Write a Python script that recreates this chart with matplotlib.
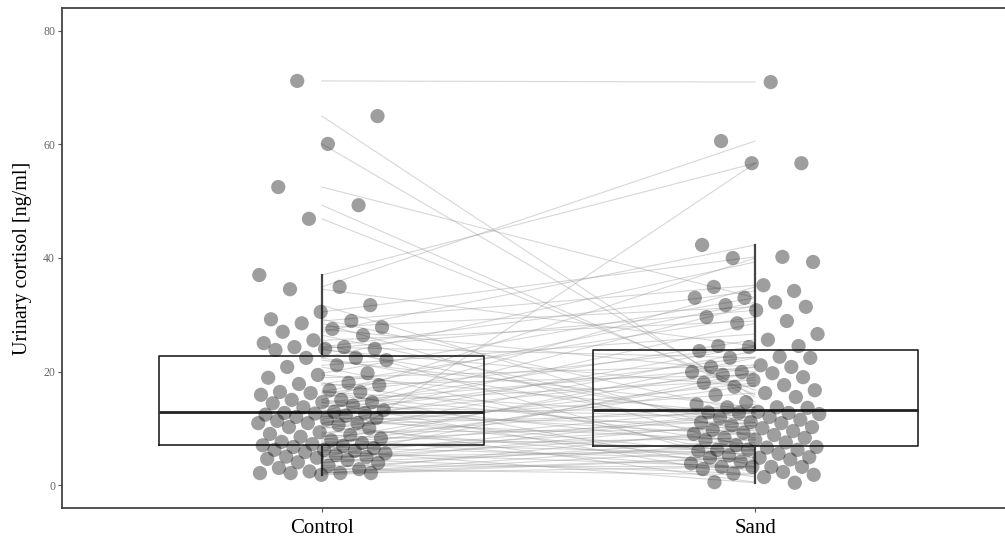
import numpy as np
import matplotlib
matplotlib.use("Agg")
from matplotlib import pyplot as plt

plt.rcParams['font.family'] = ['Liberation Serif', 'DejaVu Serif']

# group labels
groups = ["Control", "Sand"]

# paired urinary cortisol values (ng/ml), one entry per subject
control = [71.2, 65.0, 60.1, 52.5, 49.3, 46.9, 37.0, 34.9, 34.5, 31.7,
           30.5, 29.2, 28.9, 28.5, 27.8, 27.5, 27.0, 26.4, 25.5, 25.0,
           24.3, 24.3, 24.0, 24.0, 23.8, 22.4, 22.4, 22.0, 21.1, 20.8,
           19.7, 19.4, 18.9, 18.0, 17.8, 17.6, 16.7, 16.4, 16.4, 16.2,
           15.9, 15.0, 15.0, 14.6, 14.6, 14.4, 14.0, 13.7, 13.2, 12.9,
           12.7, 12.7, 12.6, 12.4, 12.2, 12.0, 11.8, 11.5, 11.3, 10.9,
           10.9, 10.9, 10.6, 10.2, 10.0, 9.3, 9.0, 8.8, 8.5, 8.2,
           7.9, 7.6, 7.4, 7.2, 7.0, 6.9, 6.7, 6.5, 6.2, 6.2,
           6.0, 5.8, 5.6, 5.3, 5.0, 4.9, 4.8, 4.6, 4.4, 4.0,
           3.9, 3.4, 3.0, 2.8, 2.4, 2.1, 2.1, 2.1, 2.1, 1.8]

sand = [71.0, 14.6, 15.5, 33.0, 15.9, 16.7, 56.7, 60.6, 24.5, 8.3,
        40.2, 12.7, 35.2, 6.2, 31.4, 19.9, 42.3, 10.2, 28.9, 3.2,
        22.4, 34.2, 11.0, 30.8, 17.3, 9.5, 39.3, 13.7, 26.6, 4.8,
        33.0, 12.5, 21.1, 7.0, 29.6, 19.4, 2.3, 32.2, 12.0, 24.3,
        9.0, 40.0, 6.6, 20.8, 1.4, 18.5, 11.8, 25.6, 8.8, 34.9,
        5.2, 22.6, 13.6, 31.7, 4.1, 19.7, 10.9, 28.5, 7.9, 16.2,
        0.5, 24.5, 12.8, 3.8, 18.0, 9.7, 23.6, 6.2, 14.2, 2.8,
        20.8, 11.5, 5.5, 17.6, 8.3, 22.4, 4.5, 13.7, 0.4, 19.0,
        10.5, 3.2, 56.7, 12.9, 6.0, 19.9, 9.2, 2.0, 12.7, 6.7,
        11.1, 3.2, 8.0, 1.8, 10.0, 4.9, 7.5, 3.2, 6.2, 4.8]

ylabel = "Urinary cortisol [ng/ml]"
yticks = [0, 20, 40, 60, 80]

data = [np.array(control), np.array(sand)]
pos = [1, 2]

fig = plt.figure(figsize=(10.05, 5.4), dpi=100)
ax = fig.add_axes([62 / 1005, 32 / 540, 953 / 1005, 500 / 540])

# paired lines between group centres
for c, s in zip(control, sand):
    ax.plot(pos, [c, s], color="#9a9a9a", lw=0.8, alpha=0.4, zorder=1)

# boxes without fill, no caps, no outlier markers
ax.boxplot(data, positions=pos, widths=0.75, showfliers=False,
           patch_artist=False,
           boxprops=dict(color="#222222", lw=1.2),
           whiskerprops=dict(color="#444444", lw=1.6),
           capprops=dict(lw=0),
           medianprops=dict(color="#222222", lw=2.0),
           zorder=2)

# jittered points: spread by rank so neighbouring values separate
golden = 0.6180339887
for k, (p, vals) in enumerate(zip(pos, data)):
    rank = np.argsort(np.argsort(-vals, kind="stable"), kind="stable")
    off = ((rank * golden + 0.31 * (k + 1)) % 1.0 - 0.5) * 0.3
    ax.scatter(p + off, vals, s=105, color="black", alpha=0.38,
               edgecolors="none", zorder=3)

ax.set_xlim(0.4, 2.6)
ax.set_ylim(-4.05, 84.05)
ax.set_xticks(pos)
ax.set_xticklabels(groups, fontsize=15)
ax.set_yticks(yticks)
ax.set_yticklabels([str(t) for t in yticks], fontsize=8.5, color="#666666")
ax.tick_params(axis="y", length=3, width=0.8, color="#555555", pad=2)
ax.tick_params(axis="x", length=3, width=0.8, color="#555555", pad=5)
ax.set_ylabel(ylabel, fontsize=14.5, labelpad=8)
for sp in ax.spines.values():
    sp.set_color("#444444")
    sp.set_linewidth(1.3)

fig.savefig("out.png", dpi=100)
